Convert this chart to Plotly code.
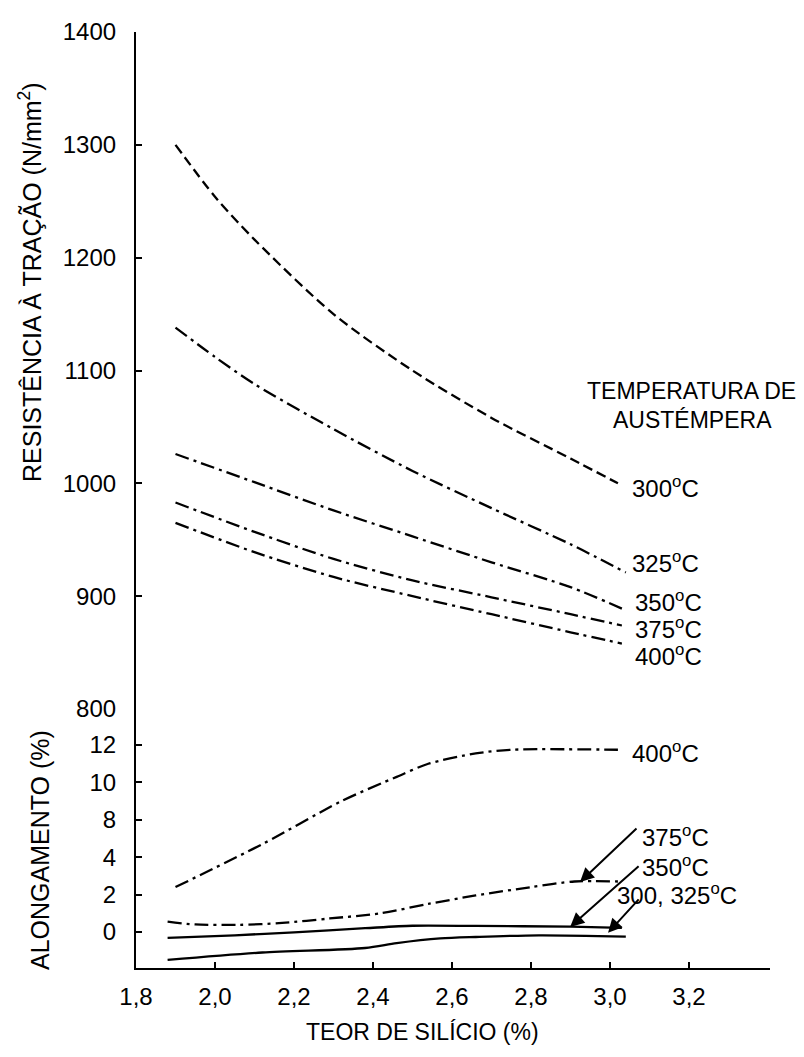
import plotly.graph_objects as go

# ---------------- data ----------------
x_ticks = [1.8, 2.0, 2.2, 2.4, 2.6, 2.8, 3.0, 3.2]
x_ticktext = ["1,8", "2,0", "2,2", "2,4", "2,6", "2,8", "3,0", "3,2"]

ts_ticks = [800, 900, 1000, 1100, 1200, 1300, 1400]

# tensile strength (N/mm2) vs silicon content (%)
x300 = [1.90, 2.00, 2.10, 2.30, 2.50, 2.70, 2.90, 3.02]
y300 = [1300, 1254, 1216, 1150, 1100, 1058, 1022, 1000]
x325 = [1.90, 2.00, 2.10, 2.30, 2.50, 2.70, 2.90, 3.04]
y325 = [1138, 1112, 1088, 1048, 1011, 978, 946, 921]
x350 = [1.90, 2.10, 2.30, 2.50, 2.70, 2.90, 3.03]
y350 = [1026, 1001, 976, 953, 930, 908, 889]
x375 = [1.90, 2.10, 2.30, 2.50, 2.70, 2.90, 3.03]
y375 = [983, 957, 933, 914, 899, 884, 874]
x400 = [1.90, 2.10, 2.30, 2.50, 2.70, 2.90, 3.03]
y400 = [965, 939, 917, 900, 884, 868, 858]

# elongation, in the (evenly spaced) tick positions of the original axis
el_tickvals = [0, 2, 4, 6, 8, 10]
el_ticktext = ["0", "2", "4", "8", "10", "12"]
e400_x = [1.90, 2.12, 2.32, 2.46, 2.54, 2.66, 2.75, 3.02]
e400_y = [2.4, 4.7, 7.0, 8.3, 9.0, 9.55, 9.75, 9.75]
e375_x = [1.88, 1.95, 2.06, 2.17, 2.29, 2.42, 2.54, 2.66, 2.80, 2.91, 3.02]
e375_y = [0.55, 0.40, 0.38, 0.48, 0.72, 1.00, 1.50, 1.95, 2.40, 2.70, 2.70]
e350_x = [1.88, 2.05, 2.20, 2.38, 2.50, 2.66, 2.90, 3.03]
e350_y = [-0.32, -0.18, -0.02, 0.20, 0.33, 0.32, 0.28, 0.22]
e300_x = [1.88, 2.12, 2.38, 2.46, 2.57, 2.66, 2.82, 3.04]
e300_y = [-1.50, -1.10, -0.86, -0.60, -0.35, -0.27, -0.18, -0.25]

# ---------------- layout geometry ----------------
W, H = 804, 1057
L, R, T, B = 136, 770, 32, 968
split = 709  # pixel row where the two panels meet

def px(xp):
    return (xp - L) / (R - L)

def py(yp):
    return (B - yp) / (B - T)

FONT = "Liberation Sans, Arial, Helvetica, sans-serif"
DASHDOT = "14px,5px,3px,5px"
BLK = "#000000"

fig = go.Figure()

def add(x, y, dash, yaxis):
    fig.add_trace(go.Scatter(x=x, y=y, mode="lines", yaxis=yaxis,
                             line=dict(color=BLK, width=2.3, dash=dash, shape="spline", smoothing=0.8),
                             showlegend=False, hoverinfo="skip"))

add(x300, y300, "10px,5px", "y")
add(x325, y325, DASHDOT, "y")
add(x350, y350, DASHDOT, "y")
add(x375, y375, DASHDOT, "y")
add(x400, y400, DASHDOT, "y")

add(e400_x, e400_y, DASHDOT, "y2")
add(e375_x, e375_y, DASHDOT, "y2")
add(e350_x, e350_y, "solid", "y2")
add(e300_x, e300_y, "solid", "y2")

tickfont = dict(family=FONT, size=24, color=BLK)

fig.update_layout(
    width=W, height=H,
    margin=dict(l=L, r=W - R, t=T, b=H - B),
    paper_bgcolor="white", plot_bgcolor="white",
    xaxis=dict(range=[1.8, 3.405], tickvals=x_ticks, ticktext=x_ticktext,
               ticks="inside", ticklen=6, tickwidth=2, tickcolor=BLK,
               showline=True, linewidth=2.2, linecolor=BLK, showgrid=False, zeroline=False,
               anchor="y2", tickfont=tickfont, ticklabelstandoff=6),
    yaxis=dict(domain=[py(split), 1], range=[800, 1400], tickvals=ts_ticks,
               ticks="inside", ticklen=6, tickwidth=2, tickcolor=BLK,
               showline=True, linewidth=2.2, linecolor=BLK, showgrid=False, zeroline=False,
               anchor="x", tickfont=tickfont, ticklabelstandoff=13),
    yaxis2=dict(domain=[0, py(split)], range=[-1.93, 11.93], tickvals=el_tickvals,
                ticktext=el_ticktext,
                ticks="inside", ticklen=6, tickwidth=2, tickcolor=BLK,
                showline=True, linewidth=2.2, linecolor=BLK, showgrid=False, zeroline=False,
                anchor="x", tickfont=tickfont, ticklabelstandoff=13),
)

ann = []

def text(xp, yp, s, size, xanchor="center", angle=0):
    ann.append(dict(xref="paper", yref="paper", x=px(xp), y=py(yp), text=s,
                    showarrow=False, xanchor=xanchor, yanchor="middle", textangle=angle,
                    font=dict(family=FONT, size=size, color=BLK)))

text(30, 282, "RESISTÊNCIA À TRAÇÃO (N/mm<sup>2</sup>)", 25, angle=-90)
text(40, 850, "ALONGAMENTO (%)", 25, angle=-90)
text(422, 1032, "TEOR DE SILÍCIO (%)", 23)
text(691, 391, "TEMPERATURA DE", 23)
text(692, 420, "AUSTÉMPERA", 23)

deg = "<sup>o</sup>C"
text(630, 487, "300" + deg, 24, "left")
text(630, 562, "325" + deg, 24, "left")
text(633, 601, "350" + deg, 24, "left")
text(633, 628, "375" + deg, 24, "left")
text(633, 655, "400" + deg, 24, "left")

text(630, 752, "400" + deg, 24, "left")
text(640, 836, "375" + deg, 24, "left")
text(640, 866, "350" + deg, 24, "left")
text(615, 894, "300, 325" + deg, 24, "left")

# arrows pointing to the elongation curves
for hx, hy, ax, ay in [(2.924, 2.67, 58, -55), (2.899, 0.27, 70, -62), (2.995, -0.05, 32, -35)]:
    ann.append(dict(xref="x", yref="y2", x=hx, y=hy, ax=ax, ay=ay, text="",
                    showarrow=True, arrowhead=2, arrowsize=1.4, arrowwidth=2, arrowcolor=BLK))

fig.update_layout(annotations=ann)
fig.write_html("out.html")
